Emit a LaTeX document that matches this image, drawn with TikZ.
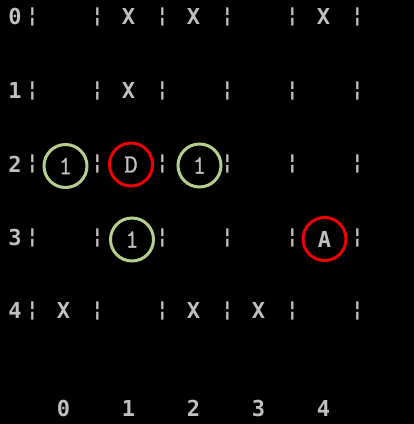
\documentclass[tikz,border=0pt]{standalone}
\usepackage{fontspec}
\newfontfamily\con{DejaVu Sans Mono}
\newfontfamily\crt{Latin Modern Mono}[FakeBold=1.2]
\definecolor{scr}{HTML}{C0C0C0}
\definecolor{ring}{HTML}{B5CE8C}
\definecolor{hit}{HTML}{F00000}
\begin{document}
\begin{tikzpicture}[x=1pt,y=-1pt,
	txt/.style={text=scr,inner sep=0pt,font=\con\bfseries\fontsize{22}{22}\selectfont},
	bar/.style={txt,font=\con\bfseries\fontsize{21}{21}\selectfont},
	grn/.style={draw=ring,line width=3pt,circle,minimum size=43pt,inner sep=0pt,
		text=scr,font=\crt\fontsize{26}{26}\selectfont},
	rd/.style={grn,draw=hit}]
	\fill[black] (0,0) rectangle (414,424);
	\useasboundingbox (0,0) rectangle (414,424);
	% rows: label and separators
	\foreach \r/\y in {0/16.5,1/90.5,2/164,3/237.5,4/310.5}{
		\node[txt] (r\r) at (15,\y) {\r};
		\foreach \c in {0,...,5}
			\node[bar] (b\r\c) at (32.5+65*\c,\y) {¦};
	}
	% blocked cells
	\node[txt] (x01) at (128.5,16.5) {X};
	\node[txt] (x02) at (193.5,16.5) {X};
	\node[txt] (x04) at (323.5,16.5) {X};
	\node[txt] (x11) at (128.5,90.5) {X};
	\node[txt] (x40) at (63.5,310.5) {X};
	\node[txt] (x42) at (193.5,310.5) {X};
	\node[txt] (x43) at (258.5,310.5) {X};
	% marked cells
	\node[grn] (g20) at (65.5,166) {1};
	\node[rd] (d21) at (131,164.5) {D};
	\node[grn] (g22) at (199.5,165.5) {1};
	\node[grn] (g31) at (132,239.5) {1};
	\node[rd,font=\con\bfseries\fontsize{22}{22}\selectfont] (a34) at (324.5,239) {A};
	% column labels
	\foreach \c in {0,...,4}
		\node[txt] (c\c) at (63.5+65*\c,408.5) {\c};
\end{tikzpicture}
\end{document}
